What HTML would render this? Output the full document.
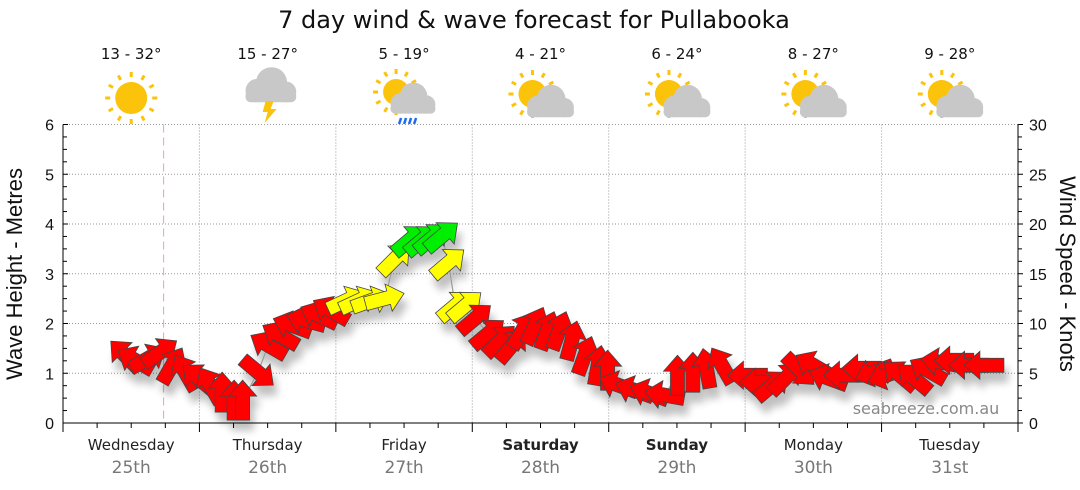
<!DOCTYPE html>
<html><head><meta charset="utf-8"><style>
body{margin:0;background:#fff;}
svg{display:block;font-family:"Liberation Sans",sans-serif;}
.dv{font-family:"DejaVu Sans",sans-serif;}
</style></head><body>
<svg id="chart" width="1080" height="490" viewBox="0 0 1080 490">
<defs>
<filter id="sh" x="-50%" y="-50%" width="200%" height="200%"><feGaussianBlur in="SourceAlpha" stdDeviation="4"/><feOffset dx="4" dy="10"/><feComponentTransfer><feFuncA type="linear" slope="0.25"/></feComponentTransfer><feMerge><feMergeNode/><feMergeNode in="SourceGraphic"/></feMerge></filter>
</defs>
<text class="dv" x="534" y="28" text-anchor="middle" font-size="24" fill="#111">7 day wind &amp; wave forecast for Pullabooka</text>
<g id="header"></g>
<g id="grid"></g>
<g id="axes"></g>
<g id="series" filter="url(#sh)"></g>
<text class="dv" x="926" y="414" text-anchor="middle" font-size="16" fill="#888">seabreeze.com.au</text>
<text transform="translate(22,274) rotate(-90)" text-anchor="middle" font-size="22" fill="#111">Wave Height - Metres</text>
<text transform="translate(1060,274) rotate(90)" text-anchor="middle" font-size="22" fill="#111">Wind Speed - Knots</text>
</svg>
<script>
const days=["Wednesday","Thursday","Friday","Saturday","Sunday","Monday","Tuesday"];
const dates=["25th","26th","27th","28th","29th","30th","31st"];
const boldDays=[false,false,false,true,true,false,false];
const temps=["13 - 32°","15 - 27°","5 - 19°","4 - 21°","6 - 24°","8 - 27°","9 - 28°"];
const icons=["sun","storm","rain","partly","partly","partly","partly"];
const leftTicks=[0,1,2,3,4,5,6];
const rightTicks=[0,5,10,15,20,25,30];
// wind: hours from Wed 00:00, speed knots, screen direction degrees
const windHours=[10.9,12.7,15,17.1,19.2,21.5,23.8,25.9,28,30.1,31.6,34.3,36.1,38.2,40.3,42.7,45,47.1,49.8,52,54.2,56.6,58.4,61,63.2,64.9,66.7,67.8,69,70.8,72.5,74.8,76.9,79,80.8,83,85.2,87.3,89.5,91.8,94.1,95.8,97.7,100.5,103.1,105.8,108.1,110.8,113.2,115.9,120.4,122.5,124.8,127.1,129.6,132,134.6,137.3,140.5,142.7,144.9,147.2,149.7,152.1,154.4,156.7,159.3,162];
const windSpeed=[6.8,6.3,6.5,7.1,5.8,5.1,4.5,3.8,3.1,2.3,2.3,5.1,7.8,8.8,9.8,10.3,10.8,11.3,12.3,12.3,12.3,12.5,16.5,18.4,18.4,18.6,18.8,16.1,11.8,11.8,10.5,9.0,8.3,7.8,9.3,9.8,9.3,9.3,8.3,6.8,5.8,5.3,3.8,3.3,3.0,2.8,4.8,5.1,5.5,5.8,4.8,4.1,3.8,4.5,5.3,5.8,4.5,4.8,5.5,5.1,4.8,4.8,4.5,5.3,6.1,6.3,5.8,5.8];
const windDir=[-135,-150,-30,-35,-60,-120,-140,-120,-90,-90,-90,40,-150,-150,-160,-165,-155,-150,-25,-25,-20,-15,-45,-40,-40,-40,-40,-40,-40,-40,-40,-40,-45,-50,-60,-65,-70,-70,-75,-70,-80,-90,-160,-160,-160,-170,-90,-90,-100,-120,180,180,-40,-45,45,-150,-160,180,180,160,160,-140,-140,-150,-170,180,180,180];

const NS="http://www.w3.org/2000/svg";
const X0=63,X1=1018,Y0=423,Y1=124.5,HOURS=168;
const xs=h=>X0+h*(X1-X0)/HOURS;
const yL=m=>Y0-m*(Y0-Y1)/6;
const yR=k=>Y0-k*(Y0-Y1)/30;
function mk(tag,attrs,parent){const e=document.createElementNS(NS,tag);for(const k in attrs)e.setAttribute(k,attrs[k]);parent.appendChild(e);return e;}
const grid=document.getElementById('grid'),axes=document.getElementById('axes'),series=document.getElementById('series'),header=document.getElementById('header');
const dayW=(X1-X0)/7;
leftTicks.forEach(t=>{if(t>0){const l=mk('line',{x1:X0,x2:X1,y1:yL(t),y2:yL(t),stroke:'#999','stroke-dasharray':'1,2'},grid);}});
for(let d=1;d<7;d++){const l=mk('line',{x1:X0+d*dayW,x2:X0+d*dayW,y1:Y1,y2:Y0,stroke:'#999','stroke-dasharray':'1,2'},grid);}
const now=mk('line',{x1:xs(17.7),x2:xs(17.7),y1:Y1,y2:Y0,stroke:'#f4a0a0','stroke-dasharray':'8,5'},grid);

mk('line',{x1:X0,x2:X0,y1:Y1,y2:Y0+8,stroke:'#000'},axes);
mk('line',{x1:X1,x2:X1,y1:Y1,y2:Y0+8,stroke:'#000'},axes);
mk('line',{x1:X0,x2:X1,y1:Y0,y2:Y0,stroke:'#000'},axes);
for(let i=0;i<=24;i++){const y=yL(i/4);const len=i%4==0?5:4;mk('line',{x1:X0,x2:X0+len,y1:y,y2:y,stroke:'#000'},axes);mk('line',{x1:X1,x2:X1+len,y1:y,y2:y,stroke:'#000'},axes);}
leftTicks.forEach(t=>{const e=mk('text',{x:X0-9,y:yL(t)+6,'text-anchor':'end','font-size':'16',fill:'#111'},axes);e.textContent=t;});
rightTicks.forEach(t=>{const e=mk('text',{x:X1+11,y:yR(t)+6,'font-size':'16',fill:'#111'},axes);e.textContent=t;});
for(let h=0;h<=HOURS;h+=6){const x=xs(h);const big=h%24==0;mk('line',{x1:x,x2:x,y1:Y0,y2:Y0+(big?9:5),stroke:'#000'},axes);}
days.forEach((d,i)=>{const cx=X0+dayW*(i+0.5);
const t=mk('text',{x:cx,y:450,'text-anchor':'middle','font-size':'15',fill:'#222','font-weight':boldDays[i]?'bold':'normal','class':'dv'},axes);t.textContent=d;
const t2=mk('text',{x:cx,y:473,'text-anchor':'middle','font-size':'17',fill:'#777','class':'dv'},axes);t2.textContent=dates[i];
const t3=mk('text',{x:cx,y:59,'text-anchor':'middle','font-size':'15',fill:'#111','class':'dv'},header);t3.textContent=temps[i];
const g=mk('g',{transform:`translate(${cx},98)`},header);
drawIcon(g,icons[i]);});
function sun(g,cx,cy,r,rays){mk('circle',{cx,cy,r,fill:'#fcc30b'},g);if(rays){for(let a=0;a<12;a++){const an=a*Math.PI/6;mk('line',{x1:cx+Math.cos(an)*(r+5),y1:cy+Math.sin(an)*(r+5),x2:cx+Math.cos(an)*(r+10),y2:cy+Math.sin(an)*(r+10),stroke:'#fcc30b','stroke-width':3},g);}}}
function cloud(g,dx,dy,s){const c='#c8c8c8';mk('circle',{cx:dx-8*s,cy:dy+2*s,r:9*s,fill:c},g);mk('circle',{cx:dx+3*s,cy:dy-4*s,r:12*s,fill:c},g);mk('circle',{cx:dx+14*s,cy:dy+3*s,r:8*s,fill:c},g);mk('rect',{x:dx-17*s,y:dy+2*s,width:39*s,height:9*s,rx:4*s,fill:c},g);}
function drawIcon(g,k){
if(k=='sun'){sun(g,0,0,16,true);}
else if(k=='storm'){cloud(g,0,-10,1.3);mk('polygon',{points:'-2,3 6,3 3,11 9,11 -3,25 0,14 -5,14',fill:'#fcc30b'},g);}
else if(k=='rain'){sun(g,-8,-6,13,true);cloud(g,6,3,1.15);for(let i=0;i<4;i++)mk('line',{x1:-3+i*5,y1:20,x2:-5+i*5,y2:26,stroke:'#1a6cf0','stroke-width':2.5},g);}
else{sun(g,-8,-4,14,true);cloud(g,7,6,1.2);}}
const pts=windHours.map((h,i)=>xs(h)+','+yR(windSpeed[i])).join(' ');
const pl=mk('polyline',{points:pts,fill:'none',stroke:'#999','stroke-width':1.2},series);

windHours.forEach((h,i)=>{const k=windSpeed[i];const col=k>=18?'#00ee00':(k>=11.5?'#ffff00':'#ff0000');
const a=mk('polygon',{points:'-20,-7 4,-7 4,-14 20,0 4,14 4,7 -20,7',fill:col,stroke:'#444','stroke-width':0.8,transform:`translate(${xs(h)},${yR(k)}) rotate(${windDir[i]})`},series);
});
</script>
</body></html>
